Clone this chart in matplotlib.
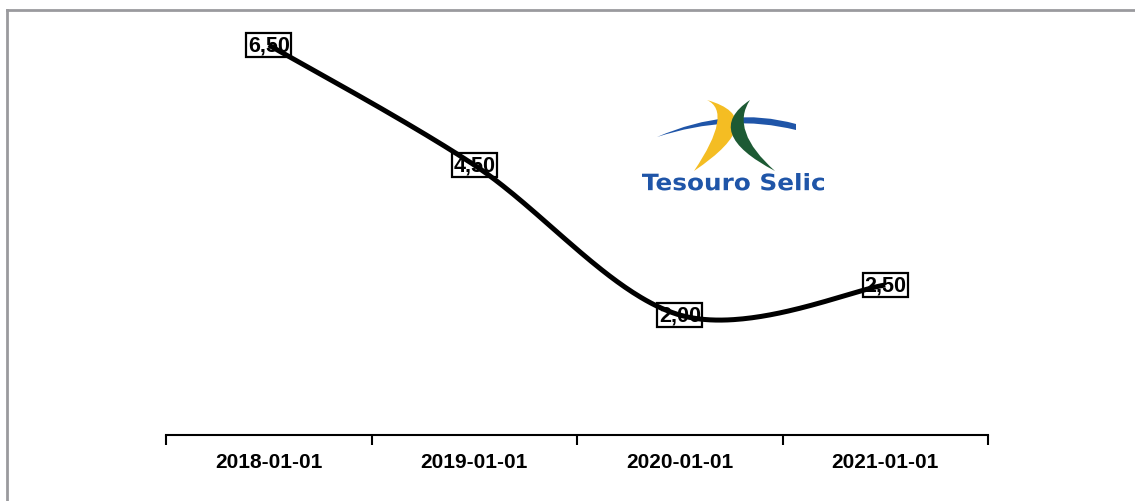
import numpy as np
import matplotlib
matplotlib.use("Agg")
import matplotlib.pyplot as plt
from matplotlib.path import Path
from matplotlib.patches import PathPatch
from matplotlib.lines import Line2D
from matplotlib.textpath import TextPath
from matplotlib.font_manager import FontProperties
from matplotlib.transforms import Affine2D

categories = ["2018-01-01", "2019-01-01", "2020-01-01", "2021-01-01"]
values = [6.50, 4.50, 2.00, 2.50]
value_labels = ["6,50", "4,50", "2,00", "2,50"]

W, H = 1135, 502
plt.rcParams['font.family'] = ['Liberation Sans', 'DejaVu Sans']
fig = plt.figure(figsize=(W / 100, H / 100), dpi=100)

# gray frame (top and left)
fig.add_artist(Line2D([7 / W, 7 / W], [0, 1 - 11 / H], color="#9a9a9e", lw=2.0, transform=fig.transFigure))
fig.add_artist(Line2D([7 / W, 1], [1 - 11 / H, 1 - 11 / H], color="#9a9a9e", lw=2.0, transform=fig.transFigure))

ax = fig.add_axes([166 / W, (H - 436) / H, (988 - 166) / W, 420 / H])
x = np.arange(len(categories))
ax.set_xlim(-0.5, len(categories) - 0.5)
ax.set_ylim(0, 7)
for s in ["top", "right", "left"]:
    ax.spines[s].set_visible(False)
ax.spines["bottom"].set_linewidth(1.5)
ax.set_yticks([])
ax.set_xticks(np.arange(-0.5, len(categories), 1.0))
ax.set_xticklabels([])
ax.tick_params(axis="x", which="major", direction="out", length=7.5, width=1.5)
ax.set_xticks(x, minor=True)
ax.set_xticklabels(categories, minor=True, fontsize=15, fontweight="bold")
ax.tick_params(axis="x", which="minor", length=0, pad=12.5)

# Excel-like smoothed line via Bezier in display space
fig.canvas.draw()
pts = ax.transData.transform(np.column_stack([x, values]))
n = len(pts)
samples = []
for i in range(n - 1):
    p0 = pts[i - 1] if i > 0 else pts[i]
    p1 = pts[i]
    p2 = pts[i + 1]
    p3 = pts[i + 2] if i + 2 < n else pts[i + 1]
    c1 = p1 + (p2 - p0) / 6.0
    c2 = p2 - (p3 - p1) / 6.0
    t = np.linspace(0, 1, 80)[:, None]
    b = ((1 - t) ** 3) * p1 + 3 * ((1 - t) ** 2) * t * c1 + 3 * (1 - t) * t ** 2 * c2 + t ** 3 * p2
    samples.append(b if i == 0 else b[1:])
samples = np.vstack(samples)
data_curve = ax.transData.inverted().transform(samples)
ax.plot(data_curve[:, 0], data_curve[:, 1], color="black", lw=3.6, solid_capstyle="butt", zorder=5, clip_on=False)

for xi, v, lab in zip(x, values, value_labels):
    ax.text(xi, v, lab, ha="center", va="center", fontsize=15.5, fontweight="bold", zorder=4,
            bbox=dict(boxstyle="square,pad=0.08", facecolor="white", edgecolor="black", lw=1.6))

# Logo "Tesouro Selic"
lx0, ly0, lx1, ly1 = 630, 90, 850, 200
lax = fig.add_axes([lx0 / W, (H - ly1) / H, (lx1 - lx0) / W, (ly1 - ly0) / H])
lax.set_xlim(lx0, lx1)
lax.set_ylim(ly1, ly0)
lax.axis("off")


def crescent(top, bot, outer_mid, inner_mid, color, z):
    top = np.array(top, float); bot = np.array(bot, float)
    co = 2 * np.array(outer_mid, float) - 0.5 * (top + bot)
    ci = 2 * np.array(inner_mid, float) - 0.5 * (top + bot)
    v = [top, co, bot, ci, top, top]
    c = [Path.MOVETO, Path.CURVE3, Path.CURVE3, Path.CURVE3, Path.CURVE3, Path.CLOSEPOLY]
    lax.add_patch(PathPatch(Path(v, c), facecolor=color, edgecolor="none", zorder=z))


# blue swoosh (beneath)
bl = np.array([657, 138.0]); br_top = np.array([796, 125.0]); br_bot = np.array([796, 131.0])
ct = 2 * np.array([728, 119.0]) - 0.5 * (bl + br_top)
cb = 2 * np.array([728, 124.5]) - 0.5 * (bl + br_bot)
v = [bl, ct, br_top, br_bot, cb, bl, bl]
c = [Path.MOVETO, Path.CURVE3, Path.CURVE3, Path.LINETO, Path.CURVE3, Path.CURVE3, Path.CLOSEPOLY]
lax.add_patch(PathPatch(Path(v, c), facecolor="#1f55a8", edgecolor="none", zorder=2))

crescent((707, 101), (694, 172), (736, 128), (717, 125), "#f4bd23", 3)
crescent((750, 101), (775, 172), (732, 135), (746, 134), "#1d5a34", 4)

fp = FontProperties(family="DejaVu Sans", weight="bold")
tp = TextPath((0, 0), "Tesouro Selic", size=1, prop=fp)
ext = tp.get_extents()
sx = (824 - 642) / ext.width
sy = (191.5 - 174.0) / ext.height
tr = Affine2D().translate(-ext.x0, -ext.y0).scale(sx, -sy).translate(642, 191.5)
lax.add_patch(PathPatch(tr.transform_path(tp), facecolor="#1f55a8", edgecolor="none", zorder=5))

fig.savefig("out.png", dpi=100)
